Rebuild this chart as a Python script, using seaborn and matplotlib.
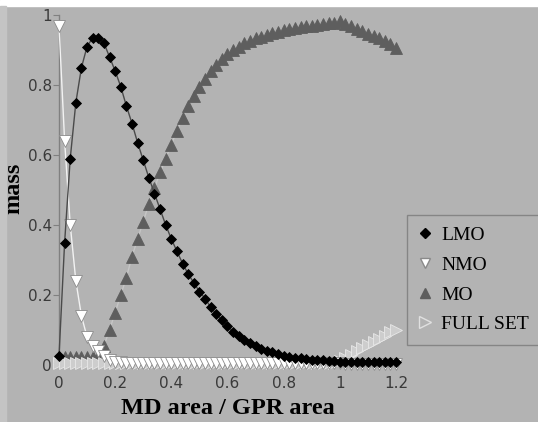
import numpy as np
import pandas as pd
import matplotlib
matplotlib.use('Agg')
import matplotlib.pyplot as plt
import seaborn as sns
from matplotlib.lines import Line2D

# x = MD area / GPR area, step 0.02
x = [round(i * 0.02, 2) for i in range(61)]

lmo = [0.025, 0.35, 0.59, 0.75, 0.85, 0.91, 0.935, 0.935, 0.92, 0.88,
       0.84, 0.795, 0.74, 0.69, 0.635, 0.585, 0.535, 0.49, 0.445, 0.40,
       0.36, 0.325, 0.29, 0.26, 0.235, 0.21, 0.19, 0.165, 0.146, 0.128,
       0.112, 0.095, 0.082, 0.072, 0.062, 0.054, 0.047, 0.041, 0.036, 0.031,
       0.027, 0.024, 0.021, 0.019, 0.017, 0.015, 0.014, 0.013, 0.012, 0.011,
       0.010, 0.010, 0.010, 0.010, 0.010, 0.010, 0.010, 0.010, 0.010, 0.010,
       0.010]
nmo = [0.97, 0.64, 0.40, 0.24, 0.14, 0.08, 0.055, 0.04, 0.025, 0.015,
       0.010, 0.008, 0.007, 0.006, 0.006, 0.005, 0.005, 0.005, 0.005, 0.005,
       0.005, 0.005, 0.005, 0.005, 0.005, 0.005, 0.005, 0.005, 0.005, 0.005,
       0.005, 0.005, 0.005, 0.005, 0.005, 0.005, 0.005, 0.005, 0.005, 0.005,
       0.005, 0.005, 0.005, 0.005, 0.005, 0.005, 0.005, 0.005, 0.005, 0.005,
       0.005, 0.004, 0.004, 0.004, 0.004, 0.003, 0.003, 0.003, 0.003, 0.003,
       0.003]
mo = [0.022, 0.022, 0.022, 0.022, 0.022, 0.022, 0.022, 0.025, 0.055, 0.10,
      0.15, 0.20, 0.25, 0.31, 0.36, 0.41, 0.46, 0.505, 0.55, 0.59,
      0.63, 0.67, 0.705, 0.74, 0.77, 0.795, 0.818, 0.84, 0.857, 0.874,
      0.89, 0.90, 0.91, 0.92, 0.927, 0.933, 0.938, 0.944, 0.948, 0.952,
      0.956, 0.96, 0.963, 0.966, 0.968, 0.970, 0.972, 0.974, 0.976, 0.978,
      0.982, 0.975, 0.968, 0.961, 0.954, 0.947, 0.940, 0.933, 0.925, 0.917,
      0.905]
full_set = [0.006] * 50 + [0.012, 0.02, 0.03, 0.04, 0.048, 0.057, 0.066,
                           0.075, 0.084, 0.093, 0.10]

names = ['LMO', 'NMO', 'MO', 'FULL SET']
bg = '#b3b3b3'

fig = plt.figure(figsize=(5.38, 4.22), dpi=100)
fig.patch.set_facecolor(bg)
ax = fig.add_axes([59 / 538, 57 / 422, 337 / 538, 350 / 422])
ax.set_facecolor(bg)

styles = {
    'MO': dict(marker='^', color='#c6c6c6', mfc='#5e5e5e', mec='#5e5e5e', ms=8.5),
    'FULL SET': dict(marker='>', color='#dcdcdc', mfc='#cdcdcd', mec='#e8e8e8', ms=8.5),
    'NMO': dict(marker='v', color='#f2f2f2', mfc='white', mec='#8a8a8a', ms=8.5),
    'LMO': dict(marker='D', color='#4a4a4a', mfc='black', mec='black', ms=5.5),
}
series = {'LMO': lmo, 'NMO': nmo, 'MO': mo, 'FULL SET': full_set}

for name in ['MO', 'FULL SET', 'NMO', 'LMO']:
    st = styles[name]
    sns.lineplot(x=x, y=series[name], ax=ax, color=st['color'], lw=1,
                 marker=st['marker'], markerfacecolor=st['mfc'],
                 markeredgecolor=st['mec'], markeredgewidth=0.6,
                 markersize=st['ms'], clip_on=False, zorder=3)

ax.set_xlim(0, 1.2)
ax.set_ylim(0, 1)
ax.set_xticks([0, 0.2, 0.4, 0.6, 0.8, 1, 1.2])
ax.set_xticklabels(['0', '0.2', '0.4', '0.6', '0.8', '1', '1.2'])
ax.set_yticks([0, 0.2, 0.4, 0.6, 0.8, 1])
ax.set_yticklabels(['0', '0.2', '0.4', '0.6', '0.8', '1'])
for s in ['top', 'right', 'bottom']:
    ax.spines[s].set_visible(False)
ax.spines['left'].set_color('#808080')
ax.spines['left'].set_linewidth(1)
ax.tick_params(axis='y', colors='#808080', labelcolor='#3a3a3a',
               labelsize=11, length=4, pad=1)
ax.tick_params(axis='x', length=0, labelcolor='#3a3a3a', labelsize=11, pad=8)

ax.set_xlabel('')
ax.set_ylabel('')
fig.text(228 / 538, 1 - 409 / 422, 'MD area / GPR area', family='Liberation Serif',
         fontweight='bold', fontsize=17.5, ha='center', va='center')
fig.text(14 / 538, 1 - 188 / 422, 'mass', family='Liberation Serif',
         fontweight='bold', fontsize=17.5, rotation=90, ha='center', va='center')

handles = [Line2D([], [], ls='none', marker=styles[n]['marker'],
                  markerfacecolor=styles[n]['mfc'], markeredgecolor=styles[n]['mec'],
                  markersize=styles[n]['ms'] * 0.85) for n in names]
handles[0] = Line2D([], [], ls='none', marker='D', markerfacecolor='black',
                    markeredgecolor='black', markersize=5)
handles[3] = Line2D([], [], ls='none', marker='>', markerfacecolor=bg,
                    markeredgecolor='#e0e0e0', markersize=8)
leg = fig.legend(handles, names, loc='upper left',
                 bbox_to_anchor=(407 / 538, 1 - 215 / 422),
                 prop={'family': 'Liberation Serif', 'size': 14},
                 frameon=True, fancybox=False, handlelength=0.7,
                 handletextpad=0.45, labelspacing=0.62, borderpad=0.6,
                 borderaxespad=0)
leg.get_frame().set_facecolor(bg)
leg.get_frame().set_edgecolor('#7a7a7a')
leg.get_frame().set_linewidth(1)

# light strips along the top and left edges
fig.patches.append(plt.Rectangle((0, 1 - 6 / 422), 1, 6 / 422,
                                 transform=fig.transFigure, color='white',
                                 zorder=0))
fig.patches.append(plt.Rectangle((0, 0), 6 / 538, 1 - 6 / 422,
                                 transform=fig.transFigure, color='#c4c4c4',
                                 zorder=0))

fig.savefig('out.png', dpi=100, facecolor=bg)
